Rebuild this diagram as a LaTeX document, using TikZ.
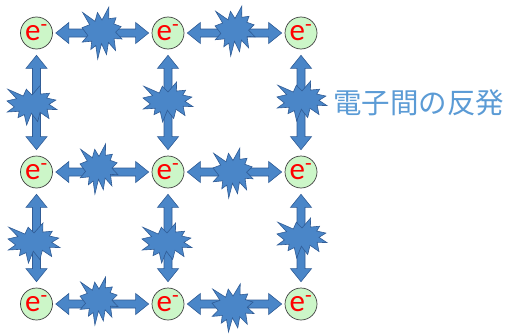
\documentclass[tikz,border=0pt]{standalone}
\usepackage{fontspec}
\setmainfont{Carlito}
\newfontfamily\jpfont{Noto Sans CJK JP}
\usetikzlibrary{calc}

\definecolor{burstblue}{RGB}{74,134,200}
\definecolor{burstedge}{RGB}{48,92,150}
\definecolor{ballgreen}{RGB}{204,246,200}
\definecolor{labelblue}{RGB}{91,155,213}

% explosion outline, unit box centred on the origin
\tikzset{
  electron/.style={circle, draw=black!75, line width=0.7pt, fill=ballgreen,
    minimum size=32pt, inner sep=0pt, text=red,
    font=\fontsize{31}{31}\selectfont},
  arrowbody/.style={fill=burstblue, draw=burstedge, line width=0.6pt, line join=miter},
  burst/.pic={
    \path[fill=burstblue, draw=burstedge, line width=0.6pt]
      (0,0.2500) -- (0.1723,0.5) -- (0.1677,0.2738) -- (0.3509,0.2937)
      -- (0.2951,0.1742) -- (0.4767,0.1233) -- (0.3403,0.0162) -- (0.5,-0.1153)
      -- (0.3019,-0.1071) -- (0.3400,-0.3377) -- (0.1610,-0.1828) -- (0.1133,-0.4137)
      -- (-0.0134,-0.2067) -- (-0.1072,-0.5) -- (-0.1542,-0.2414) -- (-0.2795,-0.3156)
      -- (-0.2566,-0.1568) -- (-0.4938,-0.1753) -- (-0.3539,-0.0487) -- (-0.5,0.1012)
      -- (-0.3087,0.1592) -- (-0.4829,0.3938) -- (-0.1744,0.2240) -- (-0.1133,0.3938)
      -- cycle;
  }
}

% double-headed block arrow between two electrons
\newcommand\harr[2]{%
  \path[arrowbody] let \p1=($(#1.east)+(3pt,0)$), \p2=($(#2.west)-(3pt,0)$) in
    (\x1,\y1) -- (\x1+13pt,\y1+10.5pt) -- (\x1+13pt,\y1+4pt)
    -- (\x2-13pt,\y2+4pt) -- (\x2-13pt,\y2+10.5pt) -- (\x2,\y2)
    -- (\x2-13pt,\y2-10.5pt) -- (\x2-13pt,\y2-4pt)
    -- (\x1+13pt,\y1-4pt) -- (\x1+13pt,\y1-10.5pt) -- cycle;}
\newcommand\varr[2]{%
  \path[arrowbody] let \p1=($(#1.south)-(0,6pt)$), \p2=($(#2.north)+(0,6pt)$) in
    (\x1,\y1) -- (\x1+10.5pt,\y1-13pt) -- (\x1+4pt,\y1-13pt)
    -- (\x2+4pt,\y2+13pt) -- (\x2+10.5pt,\y2+13pt) -- (\x2,\y2)
    -- (\x2-10.5pt,\y2+13pt) -- (\x2-4pt,\y2+13pt)
    -- (\x1-4pt,\y1-13pt) -- (\x1-10.5pt,\y1-13pt) -- cycle;}

\begin{document}
\begin{tikzpicture}[x=1pt,y=1pt]
\useasboundingbox (0,0) rectangle (511,333);

% electrons
\foreach \r/\y in {1/300,2/161,3/29}{
  \foreach \c/\x in {1/36.5,2/168,3/301}{
    \node[electron] (e\r\c) at (\x,\y) {e\textsuperscript{-}};
  }
}

% horizontal repulsion
\harr{e11}{e12} \harr{e12}{e13}
\harr{e21}{e22} \harr{e22}{e23}
\harr{e31}{e32} \harr{e32}{e33}
% vertical repulsion
\varr{e11}{e21} \varr{e12}{e22} \varr{e13}{e23}
\varr{e21}{e31} \varr{e22}{e32} \varr{e23}{e33}

% bursts on the horizontal arrows
\pic[xscale=40, yscale=52] at (102,300) {burst};
\pic[xscale=40, yscale=50] at (235,302) {burst};
\pic[xscale=38, yscale=50] at (99,164) {burst};
\pic[xscale=40, yscale=50] at (233,160) {burst};
\pic[xscale=38, yscale=48] at (99,32) {burst};
\pic[xscale=42, yscale=48] at (233,25) {burst};
% bursts on the vertical arrows
\pic[xscale=50, yscale=40] at (32,228) {burst};
\pic[xscale=50, yscale=40] at (168,231) {burst};
\pic[xscale=50, yscale=40] at (302,232) {burst};
\pic[xscale=52, yscale=40] at (34,90) {burst};
\pic[xscale=50, yscale=40] at (167,90) {burst};
\pic[xscale=50, yscale=40] at (302,95) {burst};

\node[anchor=west, inner sep=0pt, text=labelblue,
  font=\jpfont\fontsize{28.5}{28.5}\selectfont] (label) at (333,230) {電子間の反発};
\end{tikzpicture}
\end{document}
